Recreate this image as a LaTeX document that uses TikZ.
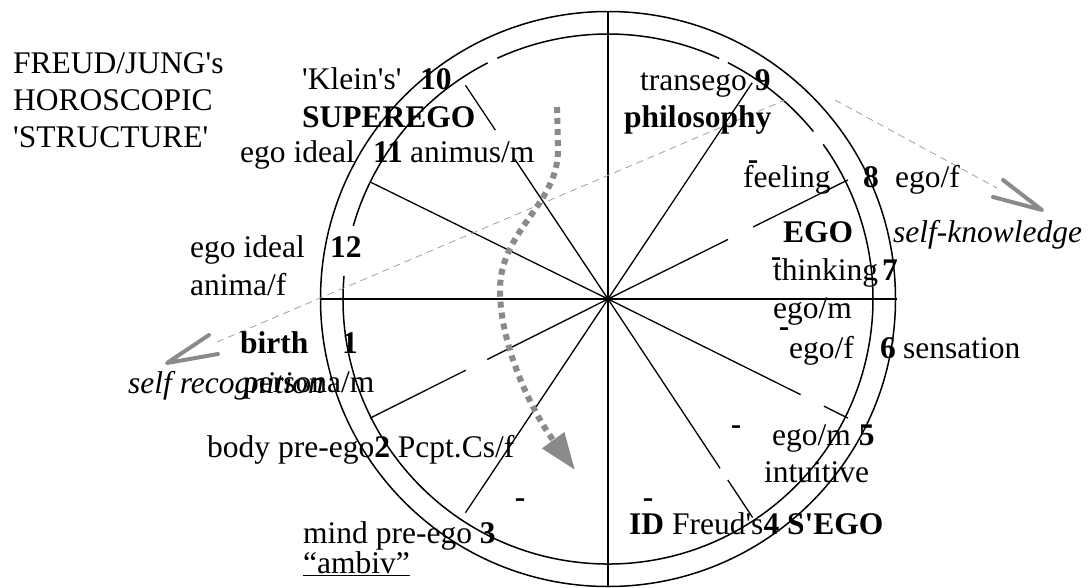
\documentclass[tikz,border=0pt]{standalone}
\usepackage{fontspec}
\setmainfont{Liberation Serif}[Ligatures=TeXOff]
\usepackage{tikz}
\usetikzlibrary{calc,arrows.meta}
\definecolor{horogray}{HTML}{8A8A8A}
\definecolor{guidegray}{HTML}{A0A0A0}

\begin{document}
\begin{tikzpicture}[x=1pt, y=1pt,
  lbl/.style={anchor=base west, inner sep=0pt, font={\fontsize{31.5}{37}\selectfont}},
  tick/.style={anchor=base, inner sep=0pt, font={\fontsize{31.5}{37}\selectfont\bfseries}},
  wheel/.style={line width=1.5pt},
  spoke/.style={line width=1.3pt},
  guide/.style={guidegray, line width=0.8pt, dash pattern=on 7pt off 5pt},
  vtip/.style={horogray, line width=4pt, line cap=round, line join=round},
  flow/.style={horogray, line width=6pt, dash pattern=on 6pt off 5pt,
    -{Triangle[length=37pt, width=26pt]}}]
  \useasboundingbox (0,0) rectangle (1092,-587);
  \coordinate (C) at (608,-299);

  \draw[wheel] (C) circle[radius=287.5];
  \foreach \a/\b in {39.2/63.1, 65.2/114.7, 117/164, 175/395.7}
    \draw[wheel] ($(C)+(\a:265)$) arc[start angle=\a, end angle=\b, radius=265];

  \draw[spoke] (608,-12) -- (608,-587);
  \draw[spoke] (320,-299) -- (897,-299);
  \foreach \a/\r/\s in {26.4/0/134, 26.4/162/268, 56.3/0/260,
      123.7/0/168, 123.7/203/257, 153.8/0/265,
      206.6/0/135, 206.6/159/266, 236.3/0/257,
      303.5/0/203, 303.5/217/262, 333.6/0/215, 333.6/241/268}
    \draw[spoke] ($(C)+(\a:\r)$) -- ($(C)+(\a:\s)$);

  \coordinate (recog) at (217,-342);
  \coordinate (peakL) at (785,-100);
  \coordinate (peakR) at (835,-100);
  \coordinate (know) at (997,-188);
  \draw[guide] (recog) -- (peakL);
  \draw[guide] (peakR) -- (know);
  \draw[vtip] (209,-335) -- (167,-363) -- (218,-354);
  \draw[vtip] (1003,-180) -- (1042,-210) -- (993,-197);

  \draw[flow] (557,-107) -- (558,-150) .. controls (558,-205) and (500,-230) .. (500,-290)
    .. controls (500,-345) and (531,-410) .. (575,-470);

  \node[lbl] (title1) at (13,-73) {FREUD/JUNG's};
  \node[lbl] (title2) at (13,-110) {HOROSCOPIC};
  \node[lbl] (title3) at (13,-147) {'STRUCTURE'};

  \node[lbl] (klein) at (302,-89) {'Klein's'};
  \node[lbl] (h10) at (420,-89) {\textbf{10}};
  \node[lbl] (superego) at (302,-127) {\textbf{SUPEREGO}};
  \node[lbl] (idealB) at (240,-162) {ego ideal};
  \node[lbl] (h11) at (373,-162) {\textbf{11}};
  \node[lbl] (animus) at (410,-162) {animus/m};

  \node[lbl] (transego) at (640,-90) {transego \textbf{9}};
  \node[lbl] (philo) at (624,-127) {\textbf{philosophy}};
  \node[lbl] (feeling) at (743,-187) {feeling};
  \node[lbl] (h8) at (863,-187) {\textbf{8}};
  \node[lbl] (egofA) at (895,-187) {ego/f};
  \node[lbl] (ego) at (783,-242) {\textbf{EGO}};
  \node[lbl] (selfknow) at (893,-242) {\textit{self-knowledge}};
  \node[lbl] (thinking) at (773,-280) {thinking};
  \node[lbl] (h7) at (882,-280) {\textbf{7}};
  \node[lbl] (egomA) at (773,-318) {ego/m};
  \node[lbl] (egofB) at (789,-358) {ego/f};
  \node[lbl] (h6) at (880,-358) {\textbf{6}};
  \node[lbl] (sensation) at (903,-358) {sensation};

  \node[lbl] (idealA) at (190,-257) {ego ideal};
  \node[lbl] (h12) at (330,-257) {\textbf{12}};
  \node[lbl] (anima) at (190,-295) {anima/f};
  \node[lbl] (birth) at (240,-353) {\textbf{birth}};
  \node[lbl] (h1) at (342,-353) {\textbf{1}};
  \node[lbl] (selfrec) at (128,-393) {\textit{self recognition}};
  \node[lbl] (persona) at (243,-392) {persona/m};
  \node[lbl] (body) at (207,-457) {body pre-ego\textbf{2} Pcpt.Cs/f};
  \node[lbl] (mind) at (303,-543) {mind pre-ego \textbf{3}};
  \node[lbl] (ambiv) at (303,-573) {\underline{“ambiv”}};

  \node[lbl] (egomB) at (772,-445) {ego/m \textbf{5}};
  \node[lbl] (intuitive) at (764,-482) {intuitive};
  \node[lbl] (id) at (629,-534) {\textbf{ID} Freud's\textbf{4 S'EGO}};

  \node[tick] (tickA) at (753,-169) {-};
  \node[tick] (tickB) at (776,-266) {-};
  \node[tick] (tickC) at (784,-336) {-};
  \node[tick] (tickD) at (736,-434) {-};
  \node[tick] (tickE) at (648,-507) {-};
  \node[tick] (tickF) at (520,-507) {-};
\end{tikzpicture}
\end{document}
